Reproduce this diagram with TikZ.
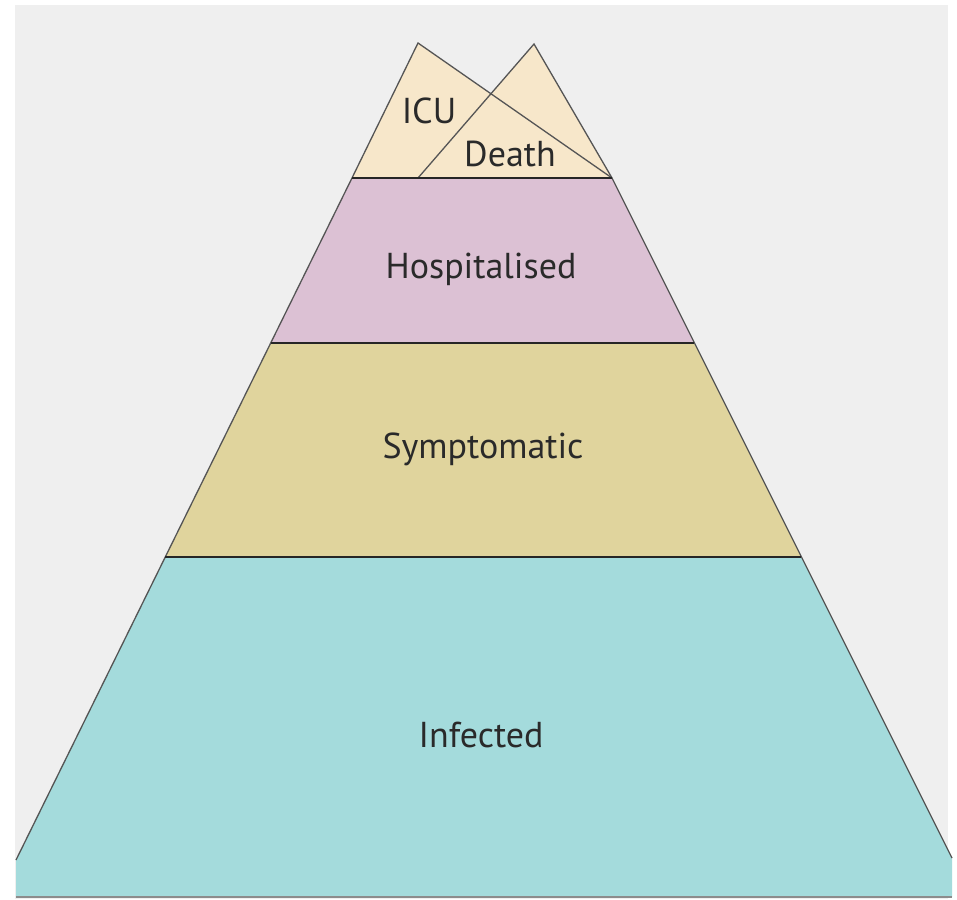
\documentclass[tikz,border=0pt]{standalone}
\usepackage{fontspec}
\setmainfont{PT Sans}
\definecolor{bg}{HTML}{EFEFEF}
\definecolor{topc}{HTML}{F7E7CA}
\definecolor{hosp}{HTML}{DCC1D4}
\definecolor{symp}{HTML}{E0D49D}
\definecolor{infc}{HTML}{A4DBDC}
\definecolor{txt}{HTML}{2A2A2A}
\definecolor{edge}{HTML}{555555}
\tikzset{
  lab/.style={font=\fontsize{36}{40}\selectfont, text=txt, anchor=base, inner sep=0pt},
  slant/.style={draw=edge, line width=1.3pt},
  sep/.style={draw=black!85, line width=2.2pt}
}
\begin{document}
\begin{tikzpicture}[x=1pt,y=-1pt]
\useasboundingbox (0,0) rectangle (957,899);
\fill[white] (0,0) rectangle (957,899);
\fill[bg] (15,5) rectangle (948,899);
% coordinates
\coordinate (A1) at (418,43);
\coordinate (A2) at (534,44);
\coordinate (L0) at (352,178);
\coordinate (M0) at (418,178);
\coordinate (R0) at (612,178);
\coordinate (L1) at (271,343);
\coordinate (R1) at (694,343);
\coordinate (L2) at (165,557);
\coordinate (R2) at (801,557);
\coordinate (L3) at (16,860);
\coordinate (R3) at (952,858);
\coordinate (LB) at (16,897);
\coordinate (RB) at (952,897);
% fills
\fill[infc] (L2) -- (R2) -- (R3) -- (RB) -- (LB) -- (L3) -- cycle;
\fill[symp] (L1) -- (R1) -- (R2) -- (L2) -- cycle;
\fill[hosp] (L0) -- (R0) -- (R1) -- (L1) -- cycle;
\fill[topc] (L0) -- (A1) -- (R0) -- cycle;
\fill[topc] (M0) -- (A2) -- (R0) -- cycle;
% outlines
\draw[slant] (L3) -- (L0) -- (A1) -- (R0);
\draw[slant] (M0) -- (A2) -- (R0) -- (R3);
\draw[draw=black!45, line width=1.2pt] (LB) -- (RB);
\draw[sep] (L0) -- (R0);
\draw[sep] (L1) -- (R1);
\draw[sep] (L2) -- (R2);
% labels
\node[lab] (icu) at (429,123) {ICU};
\node[lab] (death) at (510,166) {Death};
\node[lab] (hosp) at (481,278) {Hospitalised};
\node[lab] (symp) at (483,458) {Symptomatic};
\node[lab] (inf) at (481,747) {Infected};
\end{tikzpicture}
\end{document}
